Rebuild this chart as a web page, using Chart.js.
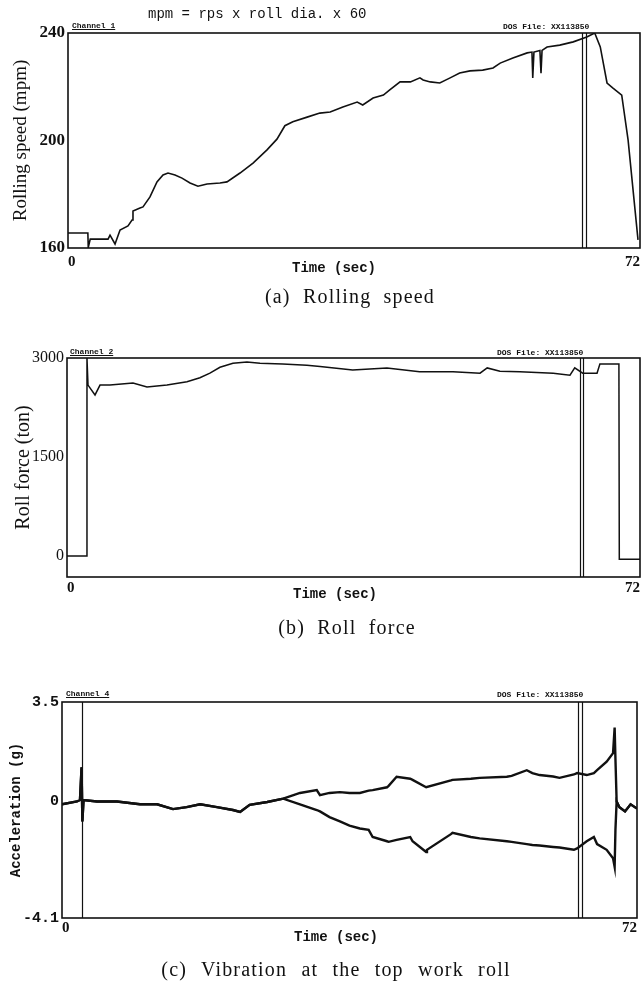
<!DOCTYPE html>
<html>
<head>
<meta charset="utf-8">
<script src="https://cdn.jsdelivr.net/npm/chart.js@4.4.1/dist/chart.umd.min.js"></script>
<style>
  body { margin: 0; background: #fff; }
  #page { position: relative; width: 641px; height: 989px; overflow: hidden; }
  canvas { position: absolute; left: 0; }
  .txt { position: absolute; color: #111; white-space: nowrap; }
  .mono { font-family: "Liberation Mono", monospace; }
  .small { font-size: 8px; font-weight: bold; }
  .ch { text-decoration: underline; }
  .xt { font-size: 14px; font-weight: bold; transform: translate(-50%, -50%); }
  .cap { font-family: "Liberation Serif", serif; font-size: 20px; letter-spacing: 1.2px; word-spacing: 6px; transform: translate(-50%, -50%); }
</style>
</head>
<body>
<div id="page">
  <canvas id="chartA" width="641" height="285" style="top:0px"></canvas>
  <canvas id="chartB" width="641" height="285" style="top:330px"></canvas>
  <canvas id="chartC" width="641" height="280" style="top:670px"></canvas>

  <div class="txt mono" style="left:148px; top:6px; font-size:14px;">mpm = rps x roll dia. x 60</div>
  <div class="txt mono small ch" style="left:72px; top:21px;">Channel 1</div>
  <div class="txt mono small" style="left:503px; top:22px;">DOS File: XX113850</div>
  <div class="txt mono xt" style="left:334px; top:268px;">Time (sec)</div>
  <div class="txt cap" style="left:350px; top:296px;">(a) Rolling speed</div>

  <div class="txt mono small ch" style="left:70px; top:347px;">Channel 2</div>
  <div class="txt mono small" style="left:497px; top:348px;">DOS File: XX113850</div>
  <div class="txt mono xt" style="left:335px; top:594px;">Time (sec)</div>
  <div class="txt cap" style="left:347px; top:627px;">(b) Roll force</div>

  <div class="txt mono small ch" style="left:66px; top:689px;">Channel 4</div>
  <div class="txt mono small" style="left:497px; top:690px;">DOS File: XX113850</div>
  <div class="txt mono xt" style="left:336px; top:937px;">Time (sec)</div>
  <div class="txt cap" style="left:336px; top:969px; word-spacing:8px;">(c) Vibration at the top work roll</div>
</div>

<script>
/* x axis, shared by all three panels */
const timeTicks = [0, 72];

/* (a) Rolling speed */
const timeA = [0, 2.5, 2.55, 2.8, 5.04, 5.29, 5.92, 6.55, 7.55, 8.06, 8.18, 9.06, 9.44, 10.32, 11.2, 11.96, 12.59, 13.47, 14.35, 15.36, 16.36, 17.5, 19.13, 20.01, 21.65, 23.29, 25.05, 26.3, 27.3, 28.3, 30.1, 31.7, 33.0, 34.6, 36.4, 37.1, 38.4, 39.7, 40.5, 41.8, 43.1, 44.3, 44.7, 45.6, 46.8, 48.1, 49.3, 50.6, 52.2, 53.5, 54.4, 56.0, 57.8, 58.4, 58.5, 58.65, 59.4, 59.54, 59.67, 60.3, 61.9, 63.6, 65.3, 66.3, 67.0, 67.85, 68.6, 69.7, 70.5, 71.75];
const speedA = [165.6, 165.6, 160.2, 163.3, 163.3, 164.8, 161.5, 166.7, 168.2, 170.4, 173.8, 174.9, 175.3, 179, 184.6, 187.2, 187.9, 187.2, 186, 184.2, 183, 183.8, 184.2, 184.6, 187.9, 191.6, 196.5, 200.5, 205.5, 207, 208.7, 210.2, 210.6, 212.5, 214.3, 213.2, 215.8, 216.9, 218.8, 221.8, 221.8, 223.3, 222.5, 221.8, 221.4, 223.3, 225.1, 225.9, 226.2, 227, 228.8, 230.7, 232.6, 232.9, 223.3, 232.9, 233.5, 225, 233.5, 234.8, 235.5, 236.7, 238.5, 240, 234.8, 221.4, 219.5, 216.9, 200.2, 163];
const speedTicks = [160, 200, 240];
const cursorsA = [64.7, 65.2];

/* (b) Roll force */
const timeB = [0, 2.39, 2.51, 2.64, 3.52, 4.15, 5.4, 8.29, 10.05, 12.56, 15.08, 16.7, 17.96, 19.22, 20.85, 22.61, 24.25, 27.1, 30.15, 31.8, 35.9, 40.2, 44.3, 48.5, 51.9, 52.8, 54.4, 56.9, 61.1, 63.2, 63.8, 64.8, 66.6, 66.96, 69.35, 69.4, 72];
const forceB = [0, 0, 3000, 2590, 2440, 2590, 2590, 2620, 2560, 2590, 2640, 2700, 2770, 2860, 2920, 2940, 2920, 2910, 2890, 2870, 2820, 2850, 2790, 2790, 2770, 2850, 2800, 2790, 2770, 2740, 2850, 2770, 2770, 2910, 2910, -50, -50];
const forceTicks = [0, 1500, 3000];
const cursorsB = [64.45, 64.8];

/* (c) Vibration, two traces */
const timeC = [0, 1.88, 2.25, 2.45, 2.55, 2.7, 4.38, 6.88, 9.76, 11.9, 13.9, 15.6, 17.3, 19.4, 21.4, 22.3, 23.5, 25.7, 27.7, 29.8, 31.9, 32.3, 33.5, 34.8, 36.0, 37.3, 38.4, 38.9, 40.7, 40.9, 41.9, 43.6, 43.9, 45.6, 45.7, 48.7, 48.9, 51.2, 52.3, 55.7, 56.3, 58.2, 58.9, 59.8, 61.5, 62.3, 64.1, 64.5, 65.7, 66.6, 67.0, 68.2, 69.0, 69.2, 69.3, 69.45, 69.8, 70.5, 71.2, 72];
const accelUpper = [-0.1, 0, 0.05, 1.2, -0.7, 0.05, 0, 0, -0.1, -0.1, -0.27, -0.2, -0.1, -0.2, -0.3, -0.37, -0.12, -0.02, 0.1, 0.3, 0.4, 0.22, 0.3, 0.33, 0.3, 0.3, 0.38, 0.4, 0.5, 0.55, 0.87, 0.8, 0.76, 0.5, 0.5, 0.74, 0.76, 0.8, 0.83, 0.87, 0.9, 1.1, 1.0, 0.93, 0.88, 0.83, 0.95, 1.0, 0.93, 1.0, 1.1, 1.4, 1.7, 2.6, 1.5, 0, -0.2, -0.35, -0.1, -0.25];
const accelLower = [-0.1, 0, 0.05, 1.2, -0.7, 0.05, 0, 0, -0.1, -0.1, -0.27, -0.2, -0.1, -0.2, -0.3, -0.37, -0.12, -0.02, 0.1, -0.1, -0.3, -0.35, -0.55, -0.7, -0.85, -0.95, -1.0, -1.25, -1.4, -1.42, -1.35, -1.25, -1.4, -1.78, -1.7, -1.15, -1.1, -1.25, -1.3, -1.4, -1.42, -1.5, -1.53, -1.55, -1.6, -1.62, -1.7, -1.65, -1.4, -1.25, -1.5, -1.7, -2.0, -2.3, -1.0, 0, -0.2, -0.35, -0.1, -0.25];
const accelTicks = [-4.1, 0, 3.5];
const cursorsC = [2.5, 64.6, 65.1];

const ink = "#111";

const framePlugin = {
    id: "frame",
    afterDatasetsDraw(chart, args, opts) {
        const { ctx, chartArea: a } = chart;
        const x = chart.scales.x;
        ctx.save();
        ctx.strokeStyle = ink;
        ctx.lineWidth = 1.2;
        (opts.cursors || []).forEach(t => {
            const px = Math.round(x.getPixelForValue(t)) + 0.5;
            ctx.beginPath();
            ctx.moveTo(px, a.top);
            ctx.lineTo(px, a.bottom);
            ctx.stroke();
        });
        ctx.lineWidth = 1.6;
        ctx.strokeRect(a.left, a.top, a.width, a.height);
        ctx.restore();
    }
};

function toPoints(xs, ys) {
    return xs.map((t, i) => ({ x: t, y: ys[i] }));
}

function makePanel(id, p) {
    new Chart(document.getElementById(id), {
        type: "line",
        data: {
            datasets: p.series.map(s => ({
                data: s,
                borderColor: ink,
                borderWidth: p.lineWidth,
                pointRadius: 0,
                tension: 0,
                fill: false
            }))
        },
        options: {
            responsive: false,
            animation: false,
            devicePixelRatio: 1,
            layout: { padding: { top: p.top, right: p.right, bottom: 0, left: 0 } },
            plugins: {
                legend: { display: false },
                tooltip: { enabled: false },
                frame: { cursors: p.cursors }
            },
            scales: {
                x: {
                    type: "linear",
                    min: 0,
                    max: 72,
                    grid: { display: false, drawTicks: false },
                    border: { display: false },
                    afterFit: s => {
                        s.height = p.xHeight;
                        s.paddingLeft = 0;
                        s.paddingRight = 0;
                    },
                    afterBuildTicks: s => { s.ticks = timeTicks.map(v => ({ value: v })); },
                    ticks: {
                        align: "inner",
                        maxRotation: 0,
                        autoSkip: false,
                        padding: p.xPad,
                        color: ink,
                        font: { family: "Liberation Serif", size: 15, weight: "bold" }
                    }
                },
                y: {
                    type: "linear",
                    min: p.yMin,
                    max: p.yMax,
                    grid: { display: false, drawTicks: false },
                    border: { display: false },
                    afterFit: s => { s.width = p.left; },
                    afterBuildTicks: s => { s.ticks = p.yTicks.map(v => ({ value: v })); },
                    ticks: {
                        padding: 3,
                        color: ink,
                        font: p.tickFont,
                        callback: v => String(v)
                    },
                    title: {
                        display: true,
                        text: p.yTitle,
                        color: ink,
                        font: p.titleFont,
                        padding: { top: p.titlePad, bottom: 0 }
                    }
                }
            }
        },
        plugins: [framePlugin]
    });
}

makePanel("chartA", {
    series: [toPoints(timeA, speedA)],
    lineWidth: 1.6,
    top: 33, right: 1, left: 68, xHeight: 37, xPad: 5,
    yMin: 160, yMax: 240, yTicks: speedTicks,
    tickFont: { family: "Liberation Serif", size: 17, weight: "bold" },
    yTitle: "Rolling speed (mpm)",
    titleFont: { family: "Liberation Serif", size: 19 },
    titlePad: 10,
    cursors: cursorsA
});

makePanel("chartB", {
    series: [toPoints(timeB, forceB)],
    lineWidth: 1.5,
    top: 28, right: 1, left: 67, xHeight: 38, xPad: 2,
    yMin: -318, yMax: 3000, yTicks: forceTicks,
    tickFont: { family: "Liberation Serif", size: 16 },
    yTitle: "Roll force (ton)",
    titleFont: { family: "Liberation Serif", size: 20 },
    titlePad: 12,
    cursors: cursorsB
});

makePanel("chartC", {
    series: [toPoints(timeC, accelUpper), toPoints(timeC, accelLower)],
    lineWidth: 2.4,
    top: 32, right: 4, left: 62, xHeight: 32, xPad: 1,
    yMin: -4.1, yMax: 3.5, yTicks: accelTicks,
    tickFont: { family: "Liberation Mono", size: 15, weight: "bold" },
    yTitle: "Acceleration (g)",
    titleFont: { family: "Liberation Mono", size: 14, weight: "bold" },
    titlePad: 8,
    cursors: cursorsC
});
</script>
</body>
</html>
